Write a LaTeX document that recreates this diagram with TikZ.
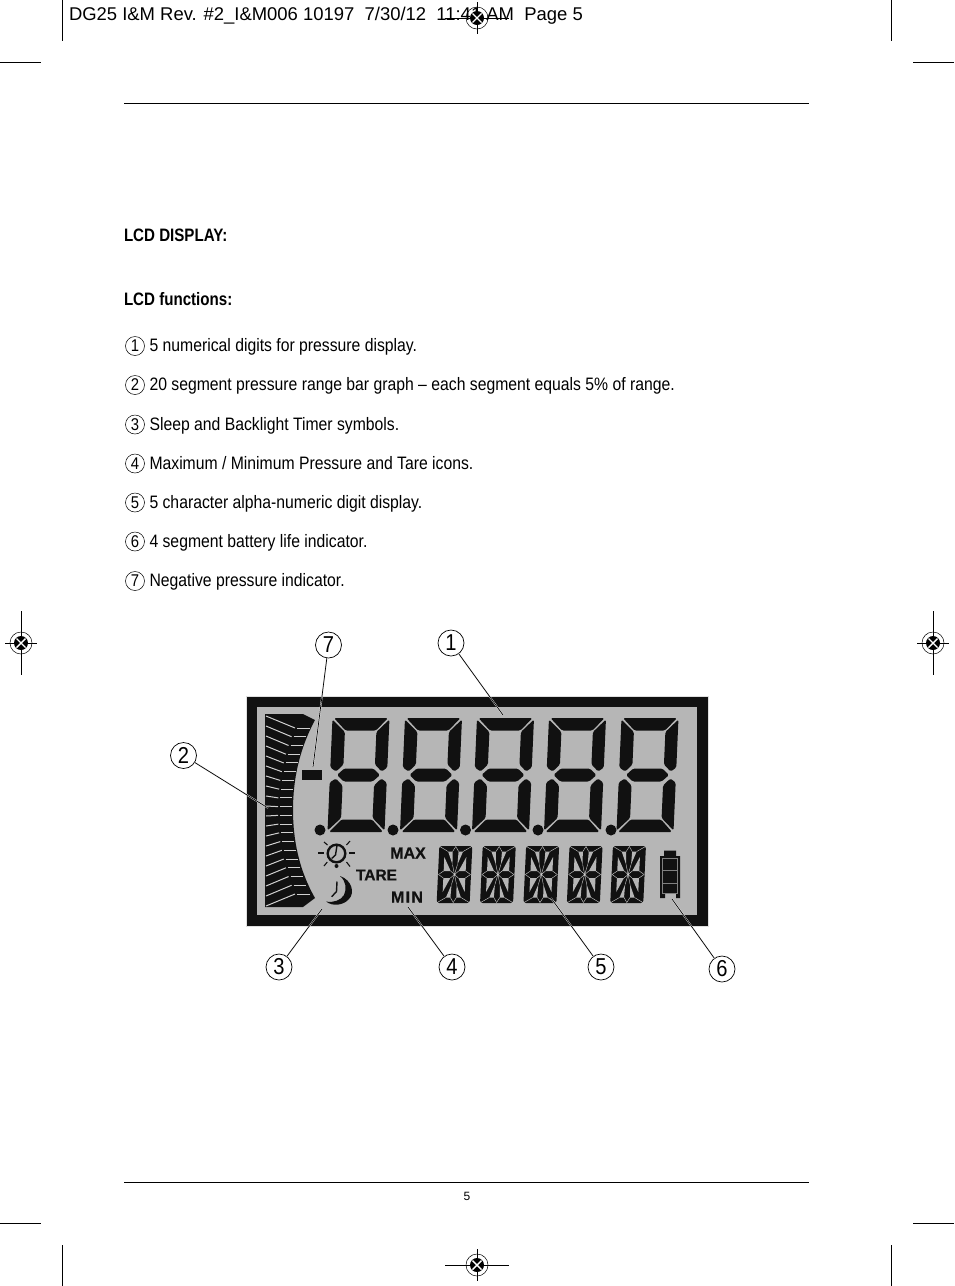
\documentclass[tikz,border=0pt]{standalone}
\usepackage{fontspec}
\setmainfont{Liberation Sans}
\newfontfamily\narrowfont[FakeStretch=0.875]{Liberation Sans}
\newfontfamily\boldnarrow[FakeStretch=0.84]{Liberation Sans}
\newfontfamily\lcdfont[BoldFeatures={FakeBold=0.6}]{Liberation Sans}
\newfontfamily\lcdwide[BoldFeatures={FakeBold=0.6},LetterSpace=8]{Liberation Sans}
\usetikzlibrary{calc}

\definecolor{lcdgrey}{HTML}{B6B6B6}
\definecolor{lcdblack}{HTML}{111111}
\definecolor{lcdline}{HTML}{D0D0D0}

\tikzset{
	every node/.style={inner sep=0pt,outer sep=0pt},
	hairline/.style={line width=0.7pt},
	seg/.style={fill=lcdblack,rounded corners=1.5pt},
	pagetext/.style={anchor=base west,font=\fontsize{18.45}{20}\selectfont},
	bodytext/.style={anchor=base west,font=\narrowfont\fontsize{18}{20}\selectfont},
	headtext/.style={anchor=base west,font=\boldnarrow\bfseries\fontsize{18}{20}\selectfont},
	itemno/.style={draw,circle,line width=0.5pt,minimum size=19pt,font=\narrowfont\fontsize{17}{17}\selectfont},
	calloutno/.style={draw,circle,line width=0.7pt,minimum size=26pt,font=\narrowfont\fontsize{23}{23}\selectfont},
	callout/.style={line width=0.7pt,preaction={draw=white!75!lcdgrey,line width=1.5pt}},
	lcdtext/.style={font=\lcdfont\bfseries\fontsize{#1}{#1}\selectfont,text=lcdblack},
}

\begin{document}
\begin{tikzpicture}[x=1pt,y=-1pt]

\useasboundingbox (0,0) rectangle (954,1286);

% crop marks
\foreach \x in {62,891}{
	\draw[hairline] (\x,0)--(\x,41);
	\draw[hairline] (\x,1245)--(\x,1286);
}
\foreach \y in {62,1223}{
	\draw[hairline] (0,\y)--(41,\y);
	\draw[hairline] (913,\y)--(954,\y);
}

% page rules
\draw[hairline] (124,103.5)--(809,103.5);
\draw[hairline] (124,1182.5)--(809,1182.5);

\node[pagetext] (slug) at (69,20) {DG25 I\&M Rev. \#2\_I\&M006 10197\ \ 7/30/12\ \ 11:41 AM\ \ Page 5};
\node[font=\fontsize{12}{12}\selectfont] (pageno) at (467,1196.5) {5};

\node[headtext] (title) at (124,241) {LCD DISPLAY:};
\node[headtext] (functions) at (124,305) {LCD functions:};

\foreach \n/\y/\t in {
	1/346/{5 numerical digits for pressure display.},
	2/385/{20 segment pressure range bar graph – each segment equals 5\% of range.},
	3/424.5/{Sleep and Backlight Timer symbols.},
	4/463.5/{Maximum / Minimum Pressure and Tare icons.},
	5/502.5/{5 character alpha-numeric digit display.},
	6/541.5/{4 segment battery life indicator.},
	7/581/{Negative pressure indicator.}}{
	\node[itemno] (no\n) at (135,\y) {\n};
	\node[bodytext] (item\n) at (149.5,\y+5.5) {\t};
}

% registration marks
\foreach \x/\y/\h/\v in {477/18/32/16,477/1265/32/16,21/643/16/32,933/643/16/32}{
	\draw[hairline] (\x-\h,\y)--(\x+\h,\y);
	\draw[hairline] (\x,\y-\v)--(\x,\y+\v);
	\draw[line width=0.5pt] (\x,\y) circle[radius=11];
	\fill (\x,\y) circle[radius=7];
	\draw[white,line width=1.4pt] (\x-4.5,\y-4.5)--(\x+4.5,\y+4.5);
	\draw[white,line width=1.4pt] (\x-4.5,\y+4.5)--(\x+4.5,\y-4.5);
}

% display
\fill[color=black!12] (246,696) rectangle (708.5,926.5);
\fill[color=lcdblack] (247,697) rectangle (707.5,925.5);
\fill[color=lcdgrey] (257,706.5) rectangle (697,914.5);

% bar graph
\fill[color=lcdblack] (265,714)--(303,714)--(315,720)
	.. controls (299,750) and (293,780) .. (293,810)
	.. controls (293,840) and (299,870) .. (315,898)
	--(303,907)--(265,907)--cycle;
\foreach \i in {0,...,19}{
	\pgfmathsetmacro\t{(\i-9.5)/9.5}
	\pgfmathsetmacro\sy{811+95*\t}
	\pgfmathsetmacro\ey{811+83*\t}
	\pgfmathsetmacro\ex{278+17*\t*\t}
	\pgfmathsetmacro\rx{292+18*\t*\t}
	\draw[color=lcdline,line width=1pt] (266,\sy)--(\ex,\ey);
	\draw[color=lcdline,line width=1pt] (\ex+2,\ey)--(\rx,\ey);
}

% minus sign
\fill[color=lcdblack] (302,770) rectangle (322,780);

% pressure digits
\foreach \d in {333,405.5,477.5,549.5,622}{
	\begin{scope}[shift={(\d,718)},xslant=0.044]
		\fill[seg] (1,0)--(55,0)--(43.5,12.5)--(13,12.5)--cycle;
		\fill[seg] (-0.5,1.5)--(12.5,14)--(12.5,46.5)--(5.5,53.5)--(-0.5,49.5)--cycle;
		\fill[seg] (56.5,1.5)--(44,14)--(44,46.5)--(51,53.5)--(56.5,49.5)--cycle;
		\fill[seg] (13.5,50.5)--(42.5,50.5)--(49.5,57)--(42.5,63.5)--(13.5,63.5)--(6.5,57)--cycle;
		\fill[seg] (-0.5,64.5)--(5.5,60.5)--(12.5,67.5)--(12.5,100)--(-0.5,112.5)--cycle;
		\fill[seg] (56.5,64.5)--(51,60.5)--(44,67.5)--(44,100)--(56.5,112.5)--cycle;
		\fill[seg] (1,114)--(55,114)--(43.5,101.5)--(13,101.5)--cycle;
	\end{scope}
}
\foreach \x in {320,393,465.5,538,611}{
	\fill[color=lcdblack] (\x,830) circle[radius=5.5];
}

% timer and sleep symbols
\draw[color=lcdblack,line width=2.4pt] (336.5,853.5) circle[radius=8.8];
\draw[color=lcdblack,line width=1.4pt] (337,845.5)--(335.5,855)--(331.7,858.5);
\foreach \a/\b/\c/\e in {318/853/323.5/853,349/853/355/853,324/842/327.5/845,350/841/346.5/845,324/866/327.3/862,350/866.5/346.5/862}{
	\draw[color=lcdblack,line width=1.1pt] (\a,\b)--(\c,\e);
}
\fill[color=lcdblack] (336.5,866) circle[radius=2];
\fill[color=lcdblack] (340,876)
	.. controls (352,880) and (355,893) .. (349,899)
	.. controls (344,905) and (333,907) .. (326,901.5)
	.. controls (334,903) and (341,900) .. (344,895)
	.. controls (347,889) and (346,881) .. (340,876)--cycle;
\draw[color=lcdblack,line width=1.4pt] (337,881.5)--(336.5,891.5)--(331.7,896.7);

% icon texts
\node[lcdtext=16] (maxicon) at (408,853) {MAX};
\node[lcdtext=15.5] (tareicon) at (376.5,875) {TARE};
\node[lcdtext=16,font=\lcdwide\bfseries\fontsize{16}{16}\selectfont] (minicon) at (407,897) {MIN};

% alpha digits
\foreach \d in {454.5,497.9,541.3,584.7,628.1}{
	\begin{scope}[shift={(\d,874.5)},xslant=0.047]
		\fill[color=lcdblack,rounded corners=2.5pt] (-16.5,-28.5) rectangle (16.5,28.5);
		\foreach \sx/\sy in {1/1,-1/1,1/-1,-1/-1}{
			\begin{scope}[xscale=\sx,yscale=\sy]
				\fill[color=lcdgrey] (-7.5,-23)--(-3,-23)--(-2.5,-10)--cycle;
				\fill[color=lcdgrey] (-11,-17.5)--(-11,-3.5)--(-4,-3.5)--cycle;
				\draw[color=lcdline,line width=0.4pt] (-16,-28)--(-7.5,-23);
				\draw[color=lcdline,line width=0.4pt] (-3,-23)--(0,-28);
				\draw[color=lcdline,line width=0.4pt] (-11,-3.5)--(-16,0);
				\draw[color=lcdline,line width=0.4pt] (-4,-3.5)--(0,0);
				\draw[color=lcdline,line width=0.4pt] (-2.5,-10)--(0,0);
			\end{scope}
		}
		\fill[color=lcdline] (0,0) circle[radius=1];
	\end{scope}
}

% battery
\fill[color=lcdblack] (664,850.5)--(676,850.5)--(676,856)--(680,856)--(680,898)--(676,898)--(676,893.5)
	--(665,893.5)--(665,898)--(660,898)--(660,856)--(664,856)--cycle;
\draw[color=gray,line width=0.8pt] (662.5,858) rectangle (677.5,893);
\draw[color=gray,line width=0.8pt] (662.5,870.5)--(677.5,870.5);
\draw[color=gray,line width=0.8pt] (662.5,883)--(677.5,883);

% callouts
\node[calloutno] (call1) at (451,643) {1};
\node[calloutno] (call2) at (183.5,755.5) {2};
\node[calloutno] (call3) at (279,967) {3};
\node[calloutno] (call4) at (452,967) {4};
\node[calloutno] (call5) at (601,967) {5};
\node[calloutno] (call6) at (722,969) {6};
\node[calloutno] (call7) at (328.5,645) {7};

\coordinate (tip1) at (503,715);
\coordinate (tip2) at (268,808);
\coordinate (tip3) at (322,909);
\coordinate (tip4) at (408,907);
\coordinate (tip5) at (551,898);
\coordinate (tip6) at (672,899);
\coordinate (tip7) at (313,767);

\foreach \n in {1,...,7}{
	\draw[callout] (call\n)--(tip\n);
}

\end{tikzpicture}
\end{document}
